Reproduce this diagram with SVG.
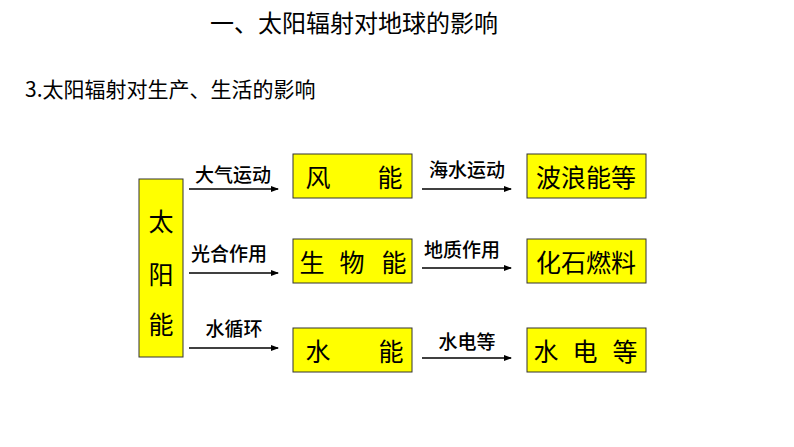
<svg xmlns="http://www.w3.org/2000/svg" width="794" height="447" viewBox="0 0 794 447">
<defs>
<style>
text{font-family:"Microsoft YaHei","Noto Sans CJK SC","Noto Sans",sans-serif;fill:#000}
.box{fill:#FFFF00;stroke:#333;stroke-width:1}
.bt{font-size:25px}
.lbl{font-size:19px;font-weight:500;text-anchor:middle}
.arr{stroke:#000;stroke-width:1.5;fill:none;marker-end:url(#ah)}
</style>
<marker id="ah" markerWidth="8" markerHeight="6" refX="7" refY="3" orient="auto" markerUnits="userSpaceOnUse">
<path d="M0,0 L8,3 L0,6 Z" fill="#000"/>
</marker>
</defs>
<rect width="794" height="447" fill="#fff"/>
<text x="354" y="32" font-size="24" text-anchor="middle">一、太阳辐射对地球的影响</text>
<text x="25" y="97" font-size="21">3.太阳辐射对生产、生活的影响</text>

<g id="sun"><rect class="box" x="139" y="179" width="44" height="178"/>
<text class="bt" font-size="26" text-anchor="middle" x="161" y="231">太</text>
<text class="bt" text-anchor="middle" x="161" y="284">阳</text>
<text class="bt" text-anchor="middle" x="161" y="334">能</text></g>

<g id="wind"><rect class="box" x="293" y="154" width="119" height="44"/>
<text class="bt" text-anchor="middle" y="187"><tspan x="318">风</tspan><tspan x="390">能</tspan></text></g>
<g id="bio"><rect class="box" x="293" y="239" width="119" height="44"/>
<text class="bt" text-anchor="middle" y="272"><tspan x="312">生</tspan><tspan x="352">物</tspan><tspan x="394">能</tspan></text></g>
<g id="hydro"><rect class="box" x="293" y="328" width="119" height="44"/>
<text class="bt" text-anchor="middle" y="361"><tspan x="318">水</tspan><tspan x="391">能</tspan></text></g>

<g id="wave"><rect class="box" x="527" y="154" width="119" height="44"/>
<text class="bt" font-size="26" text-anchor="middle" x="586" y="187">波浪能等</text></g>
<g id="fossil"><rect class="box" x="527" y="239" width="119" height="44"/>
<text class="bt" font-size="26" text-anchor="middle" x="586" y="272">化石燃料</text></g>
<g id="hydropower"><rect class="box" x="527" y="328" width="119" height="44"/>
<text class="bt" text-anchor="middle" y="361"><tspan x="546">水</tspan><tspan x="585">电</tspan><tspan x="625">等</tspan></text></g>

<g id="connectors">
<line class="arr" x1="189" y1="189" x2="278" y2="189"/>
<line class="arr" x1="189" y1="273" x2="278" y2="273"/>
<line class="arr" x1="189" y1="348" x2="278" y2="348"/>
<line class="arr" x1="422" y1="189" x2="511" y2="189"/>
<line class="arr" x1="422" y1="268" x2="511" y2="268"/>
<line class="arr" x1="422" y1="358" x2="511" y2="358"/>
<text class="lbl" x="233" y="182">大气运动</text>
<text class="lbl" x="229" y="261">光合作用</text>
<text class="lbl" x="234" y="336">水循环</text>
<text class="lbl" x="467" y="177">海水运动</text>
<text class="lbl" x="462" y="257">地质作用</text>
<text class="lbl" x="467" y="349">水电等</text>
</g>
</svg>
